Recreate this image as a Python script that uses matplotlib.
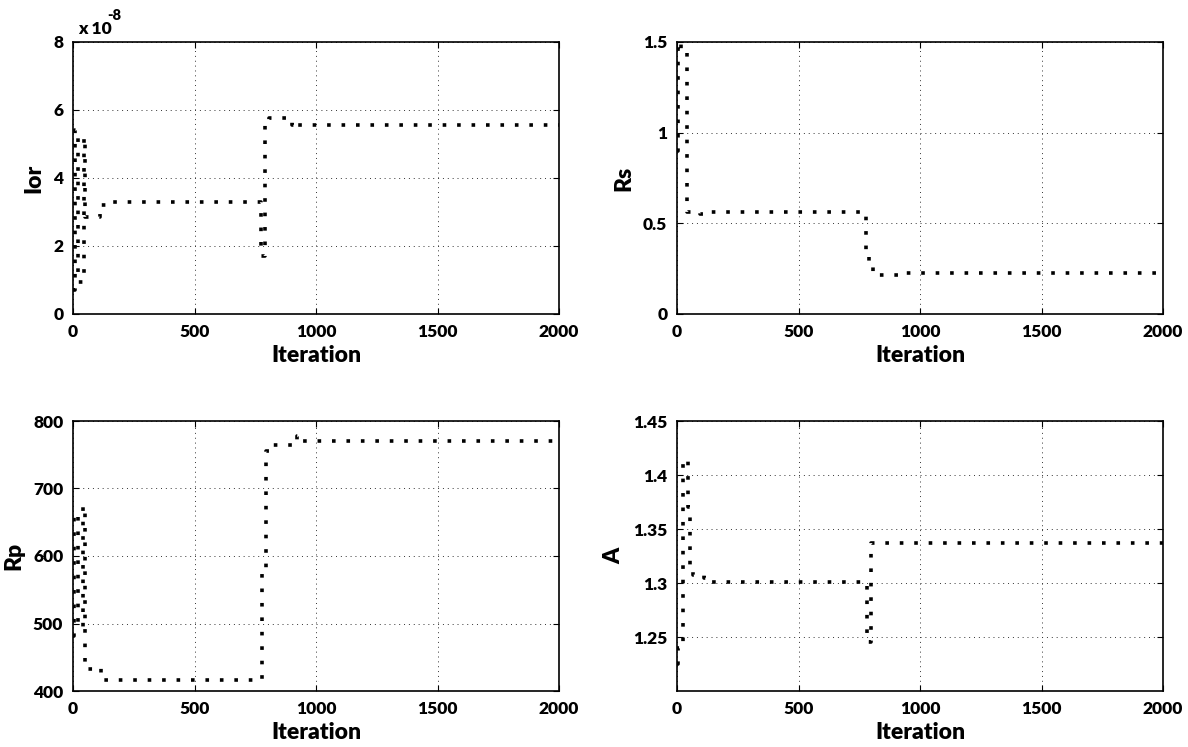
import matplotlib.pyplot as plt

plt.rcParams['font.family'] = ['Lato', 'DejaVu Sans']
plt.rcParams['font.weight'] = 'heavy'

# best value found so far, stored as (iteration, value) steps
ior_iter = [0, 7, 22, 45, 50, 110, 135, 772, 790, 805, 900, 915, 925, 2000]
ior_val = [0.7e-8, 5.4e-8, 0.95e-8, 5.2e-8, 2.85e-8, 3.2e-8, 3.3e-8,
           1.7e-8, 5.57e-8, 5.76e-8, 5.55e-8, 5.48e-8, 5.57e-8, 5.57e-8]

rs_iter = [0, 3, 15, 40, 95, 105, 778, 792, 805, 915, 2000]
rs_val = [0.9, 1.5, 1.44, 0.56, 0.55, 0.56, 0.33, 0.27, 0.215, 0.225, 0.225]

rp_iter = [0, 6, 22, 42, 48, 108, 115, 779, 795, 815, 920, 930, 2000]
rp_val = [482, 662, 495, 674, 432, 434, 417, 580, 756, 765, 778, 770, 769]

a_iter = [0, 5, 25, 45, 53, 65, 110, 125, 780, 797, 2000]
a_val = [1.225, 1.24, 1.414, 1.37, 1.316, 1.307, 1.305, 1.301, 1.245, 1.337, 1.337]

x_ticks = [0, 500, 1000, 1500, 2000]

fig = plt.figure(figsize=(11.88, 7.47), dpi=100)

W, H = 1188, 747
def box(left, top, right, bottom):
    return [left / W, 1 - bottom / H, (right - left) / W, (bottom - top) / H]

ax_ior = fig.add_axes(box(73, 42, 559, 314))
ax_rs = fig.add_axes(box(677, 42, 1163, 314))
ax_rp = fig.add_axes(box(73, 421, 559, 691))
ax_a = fig.add_axes(box(677, 421, 1163, 691))

def rysuj(ax, it, val, ylabel, ylim, yticks, ytl):
    ax.plot(it, val, drawstyle='steps-post', color='black', lw=2.6,
            linestyle=(0, (1, 3.0)), dash_capstyle='butt')
    ax.set_xlim(0, 2000)
    ax.set_ylim(*ylim)
    ax.set_xticks(x_ticks)
    ax.set_yticks(yticks)
    ax.set_yticklabels(ytl)
    ax.grid(True, color='0.2', lw=0.7, linestyle=(0, (1, 4)))
    ax.tick_params(direction='in', top=True, right=True, length=4,
                   width=0.8, labelsize=12.5, pad=7)
    for s in ax.spines.values():
        s.set_linewidth(1.2)
    ax.set_xlabel('Iteration', fontsize=16.5, fontweight='heavy', labelpad=4)
    ax.set_ylabel(ylabel, fontsize=16.5, fontweight='heavy', labelpad=6)

rysuj(ax_ior, ior_iter, [v / 1e-8 for v in ior_val], 'Ior', (0, 8),
      [0, 2, 4, 6, 8], ['0', '2', '4', '6', '8'])
ax_ior.text(0.01, 1.02, 'x 10', transform=ax_ior.transAxes, fontsize=12.5,
            fontweight='heavy', va='bottom', ha='left')
ax_ior.text(0.07, 1.075, '-8', transform=ax_ior.transAxes, fontsize=10.5,
            fontweight='heavy', va='bottom', ha='left')

rysuj(ax_rs, rs_iter, rs_val, 'Rs', (0, 1.5),
      [0, 0.5, 1, 1.5], ['0', '0.5', '1', '1.5'])
rysuj(ax_rp, rp_iter, rp_val, 'Rp', (400, 800),
      [400, 500, 600, 700, 800], ['400', '500', '600', '700', '800'])
rysuj(ax_a, a_iter, a_val, 'A', (1.2, 1.45),
      [1.25, 1.3, 1.35, 1.4, 1.45], ['1.25', '1.3', '1.35', '1.4', '1.45'])

fig.savefig('out.png', dpi=100)
